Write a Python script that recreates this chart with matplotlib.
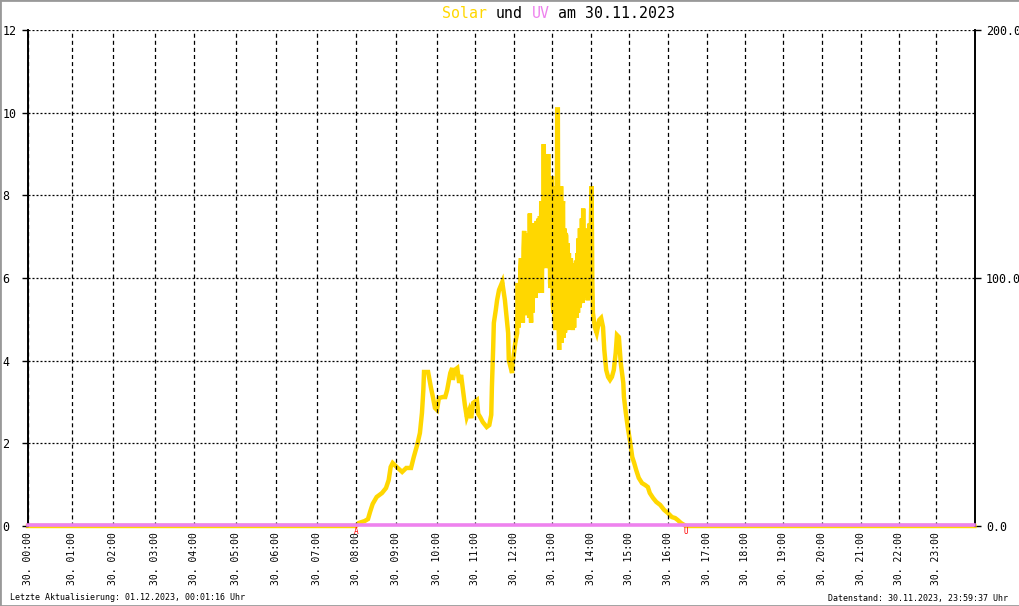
import matplotlib
matplotlib.use("Agg")
import matplotlib.pyplot as plt
import matplotlib.transforms as mtransforms
import numpy as np
from matplotlib.patches import Rectangle

# --- data (solar in W/m², UV index) ---
# morning part
morning_time = [
    "00:00", "08:00", "08:04", "08:13", "08:18", "08:21", "08:25", "08:31", "08:39", "08:45",
    "08:49", "08:52", "08:55", "09:01", "09:09", "09:15", "09:22", "09:26", "09:31", "09:35",
    "09:38", "09:40", "09:41", "09:47", "09:51", "09:54", "09:57", "10:00", "10:03", "10:09",
    "10:13", "10:16", "10:21", "10:24", "10:25", "10:28", "10:32", "10:35", "10:38", "10:41",
    "10:44", "10:47", "10:51", "10:54", "10:57", "11:03", "11:05", "11:08", "11:12", "11:18",
    "11:22", "11:25", "11:26", "11:28", "11:29", "11:32", "11:34", "11:37", "11:42", "11:43",
    "11:46", "11:48", "11:51", "11:52", "11:55", "11:57", "11:58", "12:02", "12:05",
]
morning_wm2 = [
    0, 0, 1.2, 2.0, 2.8, 5.6, 8.9, 11.7, 13.3, 15.3,
    18.5, 23.8, 25.4, 23.8, 21.8, 23.4, 23.4, 27.8, 32.7, 37.5,
    45.6, 54.8, 62.1, 62.1, 56.0, 52.0, 47.6, 46.8, 51.6, 52.0,
    52.0, 54.8, 61.7, 63.7, 58.9, 62.9, 63.7, 57.7, 60.9, 54.8,
    48.8, 43.9, 46.8, 43.5, 49.6, 50.8, 45.2, 43.9, 41.9, 39.9,
    40.7, 44.8, 56.0, 72.2, 81.9, 87.1, 91.1, 95.2, 98.4, 96.4,
    91.1, 85.9, 77.8, 66.9, 63.7, 61.7, 65.7, 73.8, 77.8,
]
# midday, one value per minute from 12:06 to 14:03
midday_start = "12:06"
midday_wm2 = [
    98, 80, 95, 83, 104, 108, 84, 100, 82, 112,
    119, 86, 115, 85, 110, 114, 86, 118, 84, 126,
    90, 82, 120, 86, 122, 92, 94, 120, 92, 118,
    123, 94, 96, 124, 94, 125, 94, 131, 94, 126,
    104, 154, 110, 107, 148, 104, 145, 106, 150, 104,
    136, 98, 96, 134, 141, 90, 86, 137, 84, 79,
    130, 88, 168, 168, 84, 71, 125, 74, 137, 74,
    128, 131, 76, 120, 78, 118, 117, 79, 114, 80,
    110, 80, 80, 108, 80, 106, 79, 106, 80, 105,
    84, 107, 84, 110, 86, 116, 88, 120, 90, 91,
    124, 90, 128, 92, 120, 92, 118, 92, 118, 91,
    115, 92, 122, 96, 125, 137, 100, 86,
]
# afternoon part
afternoon_time = [
    "14:06", "14:09", "14:13", "14:16", "14:19", "14:21", "14:24", "14:27", "14:30", "14:33",
    "14:36", "14:39", "14:41", "14:44", "14:47", "14:51", "14:52", "14:55", "14:58", "15:02",
    "15:05", "15:08", "15:11", "15:15", "15:20", "15:25", "15:29", "15:32", "15:37", "15:42",
    "15:48", "15:54", "16:00", "16:06", "16:11", "16:15", "16:20", "16:25", "16:28", "23:59",
]
afternoon_wm2 = [
    80.2, 77.8, 83.1, 83.9, 80.2, 71.0, 62.9, 60.1, 58.9, 60.1,
    62.9, 69.8, 77.0, 76.2, 65.7, 57.7, 52.0, 45.6, 39.9, 33.5,
    27.8, 25.4, 22.6, 19.4, 17.3, 16.5, 15.7, 13.3, 11.3, 9.7,
    8.5, 6.5, 5.2, 3.6, 3.2, 2.4, 1.2, 0.4, 0, 0,
]
uv_time = ["00:00", "23:59"]
uv_index = [0, 0]

sunrise = "08:01"
sunset = "16:27"

hours = list(range(24))
hour_labels = [f"30. {h:02d}:00" for h in hours]
uv_ticks = [0, 2, 4, 6, 8, 10, 12]
solar_ticks = [0, 100, 200]

title_parts = [("Solar", "#FFD700"), ("und", "black"), ("UV", "#EE82EE"), ("am 30.11.2023", "black")]
footer_left = "Letzte Aktualisierung: 01.12.2023, 00:01:16 Uhr"
footer_right = "Datenstand: 30.11.2023, 23:59:37 Uhr"


def to_hours(t):
    h, m = t.split(":")
    return int(h) + int(m) / 60


t0 = to_hours(midday_start)
solar_x = ([to_hours(t) for t in morning_time]
           + [t0 + i / 60 for i in range(len(midday_wm2))]
           + [to_hours(t) for t in afternoon_time])
solar_y = morning_wm2 + midday_wm2 + afternoon_wm2

# the hour grid in the original is not quite evenly spaced
hour_px = [28, 72, 113, 155, 194, 236, 276, 317, 356, 396, 437, 475, 514,
           552, 591, 629, 668, 707, 745, 783, 822, 861, 899, 936, 975]
hour_ref = list(range(25))


def fwd(x):
    return np.interp(x, hour_ref, hour_px)


def inv(x):
    return np.interp(x, hour_px, hour_ref)


plt.rcParams['font.family'] = 'DejaVu Sans Mono'
plt.rcParams['lines.scale_dashes'] = False

W, H = 1020, 606
fig = plt.figure(figsize=(W / 100, H / 100), dpi=100)
ax = fig.add_axes([28 / W, 1 - 526 / H, (975 - 28) / W, (526 - 30) / H])
ax.set_xscale('function', functions=(fwd, inv))
ax2 = ax.twinx()
ax2.set_zorder(0)
ax.set_zorder(1)
ax.patch.set_visible(False)

# solar on right axis, UV on left (UV line nudged up one pixel like the original)
ax2.plot(solar_x, solar_y, color='#FFD700', lw=3.2, solid_joinstyle='miter', clip_on=False)
uv_trans = mtransforms.offset_copy(ax.transData, fig=fig, x=0, y=1, units='dots')
ax.plot([to_hours(t) for t in uv_time], uv_index, color='#EE82EE', lw=2.6,
        clip_on=False, zorder=3, transform=uv_trans)

ax.set_xlim(0, 24)
ax.set_ylim(0, 12)
ax2.set_ylim(0, 200)

ax.set_xticks(hours)
ax.set_xticklabels(hour_labels, rotation=90, fontsize=7)
ax.tick_params(axis='x', length=0, pad=4.5)

ax.set_yticks(uv_ticks)
ax.set_yticklabels([str(v) for v in uv_ticks], fontsize=8.4, ha='left')
ax.tick_params(axis='y', length=4, width=1, pad=14.5, direction='out')

ax2.set_yticks(solar_ticks)
ax2.set_yticklabels([f"{v:.1f}" for v in solar_ticks], fontsize=8.4)
ax2.tick_params(axis='y', length=4, width=1, pad=4, direction='out')

ax.set_axisbelow('line')
ax.grid(axis='x', color='black', lw=0.9, linestyle=(0, (2.9, 2.2)))
ax.grid(axis='y', color='black', lw=0.9, linestyle=(0, (1.44, 1.44)))

for s in ['top', 'bottom', 'right']:
    ax.spines[s].set_visible(False)
for s in ['top', 'bottom', 'left']:
    ax2.spines[s].set_visible(False)
ax.spines['left'].set_linewidth(1.4)
ax2.spines['right'].set_linewidth(1.4)

# sunrise / sunset markers
ax.annotate("A", (to_hours(sunrise), 0), xytext=(0, -1), textcoords='offset points',
            ha='center', va='top', color='red', fontsize=5.5)
ax.annotate("U", (to_hours(sunset), 0), xytext=(0, -1), textcoords='offset points',
            ha='center', va='top', color='red', fontsize=5.5)

# title in coloured pieces
x0 = 442
cw = 8.96
pos = 0
for txt, col in title_parts:
    fig.text((x0 + pos * cw) / W, 1 - 13 / H, txt, color=col, fontsize=10.7,
             ha='left', va='center')
    pos += len(txt) + 1

fig.text(10 / W, 1 - 598 / H, footer_left, fontsize=6, ha='left', va='center')
fig.text(1008 / W, 1 - 598 / H, footer_right, fontsize=6, ha='right', va='center')

fig.patches.append(Rectangle((0, 0), 1, 1, transform=fig.transFigure, fill=False,
                             edgecolor='#999999', lw=2))

fig.savefig('out.png', dpi=100)
